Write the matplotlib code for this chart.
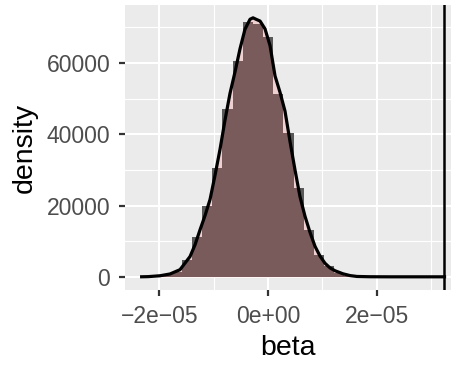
import matplotlib.pyplot as plt
import numpy as np

plt.rcParams['font.family'] = ['Liberation Sans', 'DejaVu Sans']

# histogram of beta (30 bins), heights
bin_lo = -2.34e-05
bin_hi = 3.28e-05
dens_hist = [80, 200, 500, 1400, 4790, 11070, 19800, 30420, 47240, 60650,
             71640, 71000, 67300, 51270, 40280, 24980, 13240, 6200, 2900, 1000,
             300, 100, 0, 0, 0, 0, 0, 0, 0, 0]

# kernel density curve, x in units of 1e-05
dens_x = [-2.357, -2.210, -1.989, -1.805, -1.621, -1.436, -1.344, -1.252, -1.160,
          -1.068, -0.976, -0.884, -0.792, -0.700, -0.608, -0.516, -0.424, -0.331,
          -0.276, -0.221, -0.147, -0.055, 0.037, 0.129, 0.221, 0.313, 0.405,
          0.497, 0.589, 0.681, 0.773, 0.866, 0.958, 1.050, 1.142, 1.234, 1.381,
          1.510, 1.639, 1.878, 2.247, 3.280]
dens_y = [0, 50, 300, 800, 2000, 5700, 9000, 13200, 17200, 21700, 28500, 35800,
          44000, 51500, 57500, 64000, 69500, 72300, 72700, 72300, 71800, 69600,
          64900, 56400, 51800, 46500, 38000, 30000, 22500, 17000, 12500, 8540,
          5800, 3800, 2500, 1700, 845, 350, 100, 20, 0, 0]

beta_line = 3.236e-05

x_breaks = [-2e-05, 0, 2e-05]
x_labels = ['\u22122e\u221205', '0e+00', '2e\u221205']
y_breaks = [0, 20000, 40000, 60000]

fig = plt.figure(figsize=(4.56, 3.66), dpi=100)
ax = fig.add_axes([125 / 456, 76 / 366, 326 / 456, 285 / 366])
ax.set_facecolor('#EBEBEB')

edges = np.linspace(bin_lo, bin_hi, len(dens_hist) + 1)
ax.bar(edges[:-1], dens_hist, width=np.diff(edges), align='edge',
       color='#595959', lw=0, zorder=2)

dx = np.array(dens_x) * 1e-05
ax.fill_between(dx, dens_y, color='#FF6666', alpha=0.2, lw=0, zorder=3)
ax.plot(dx, dens_y, color='black', lw=2.3, zorder=4, solid_capstyle='butt')
ax.axvline(beta_line, color='black', lw=1.8, zorder=5)

ax.set_xticks(x_breaks)
ax.set_xticklabels(x_labels)
ax.set_yticks(y_breaks)
ax.set_xticks([-1e-05, 1e-05, 3e-05], minor=True)
ax.set_yticks([10000, 30000, 50000, 70000], minor=True)

# limits after the ticks, so the tick setters do not widen them
ax.set_xlim(-2.634e-05, 3.37e-05)
ax.set_ylim(-3700, 76300)

ax.grid(which='major', color='white', lw=1.5, zorder=1)
ax.grid(which='minor', color='white', lw=0.8, zorder=1)
ax.set_axisbelow(True)
for s in ax.spines.values():
    s.set_visible(False)

ax.tick_params(which='major', length=4.2, width=1.6, color='#333333',
               labelsize=16.5, labelcolor='#4D4D4D', pad=6.5)
ax.tick_params(which='minor', length=0)

ax.set_xlabel('beta', fontsize=20.5, color='black', labelpad=5)
ax.set_ylabel('density', fontsize=20.5, color='black', labelpad=6)

fig.savefig('out.png', dpi=100)
